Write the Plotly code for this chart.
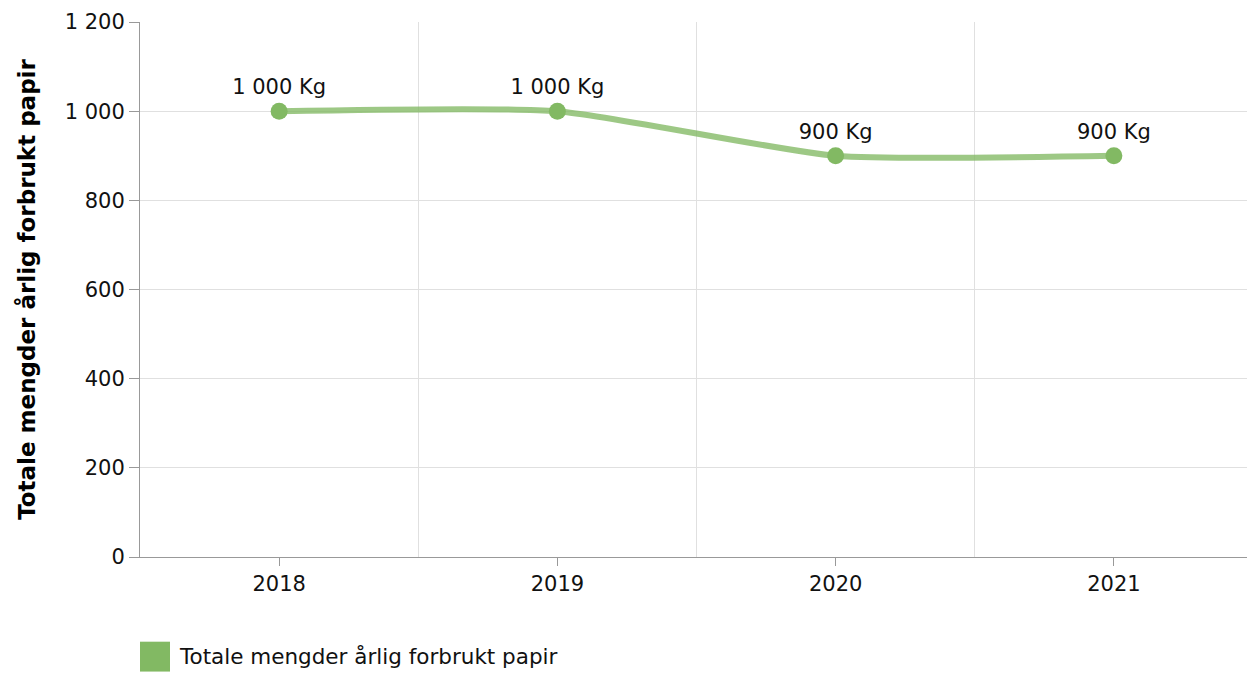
import plotly.graph_objects as go

years = ["2018", "2019", "2020", "2021"]
values = [1000, 1000, 900, 900]
series_name = "Totale mengder årlig forbrukt papir"
y_title = "Totale mengder årlig forbrukt papir"
y_ticks = [0, 200, 400, 600, 800, 1000, 1200]

FONT = "DejaVu Sans, Verdana, sans-serif"
FS = 21
x_pos = list(range(len(years)))
labels = [f"{v:,.0f} Kg".replace(",", " ") for v in values]

# page body has 8px margin -> figure offset by 8px
W, H = 1247, 665
ML, MR, MT, MB = 132, 2, 12, 116
PW = W - ML - MR
PH = H - MT - MB
PLOT_BOTTOM = 8 + H - MB  # page y of plot bottom

fig = go.Figure()
fig.add_trace(go.Scatter(
    x=x_pos, y=values, mode="lines",
    line=dict(color="rgba(130,185,99,0.78)", width=6, shape="spline", smoothing=0.55),
    showlegend=False, hoverinfo="skip",
))
fig.add_trace(go.Scatter(
    x=x_pos, y=values, mode="markers+text",
    marker=dict(color="#82b963", size=17),
    text=labels, textposition="top center",
    textfont=dict(family=FONT, size=FS, color="#111111"),
    showlegend=False, name=series_name,
))

fig.update_layout(
    width=W, height=H,
    margin=dict(l=ML, r=MR, t=MT, b=MB),
    paper_bgcolor="white", plot_bgcolor="white",
    separators=", ",
    font=dict(family=FONT, size=FS, color="#111111"),
    xaxis=dict(
        range=[-0.5, len(years) - 0.5],
        tickvals=x_pos, ticktext=years,
        showgrid=False, zeroline=False,
        showline=True, linecolor="#999999", linewidth=1,
        ticks="outside", ticklen=8, tickcolor="#999999",
        tickfont=dict(size=FS, family=FONT, color="#111111"),
        minor=dict(tickvals=[i + 0.5 for i in x_pos[:-1]], showgrid=True,
                   gridcolor="#e0e0e0", gridwidth=1, ticks=""),
    ),
    yaxis=dict(
        range=[0, 1200], tickvals=y_ticks,
        tickformat=",d",
        showgrid=True, gridcolor="#e0e0e0", gridwidth=1,
        zeroline=False,
        showline=True, linecolor="#999999", linewidth=1,
        ticks="outside", ticklen=10, tickcolor="#999999",
        tickfont=dict(size=FS, family=FONT, color="#111111"),
        title=dict(text=f"<b>{y_title}</b>", font=dict(size=23, family=FONT, color="#000000"),
                   standoff=22),
    ),
)

# legend swatch + label (page y: swatch 642-672, text centre 657)
fig.add_shape(type="rect", xref="paper", yref="paper",
              x0=0, x1=30 / PW, y0=-(642 - PLOT_BOTTOM) / PH, y1=-(672 - PLOT_BOTTOM) / PH,
              fillcolor="#82b963", line=dict(width=0))
fig.add_annotation(xref="paper", yref="paper", x=37 / PW, y=-(657 - PLOT_BOTTOM) / PH,
                   text=series_name, showarrow=False, xanchor="left", yanchor="middle",
                   font=dict(size=21.5, family=FONT, color="#111111"))

fig.write_html("out.html")
